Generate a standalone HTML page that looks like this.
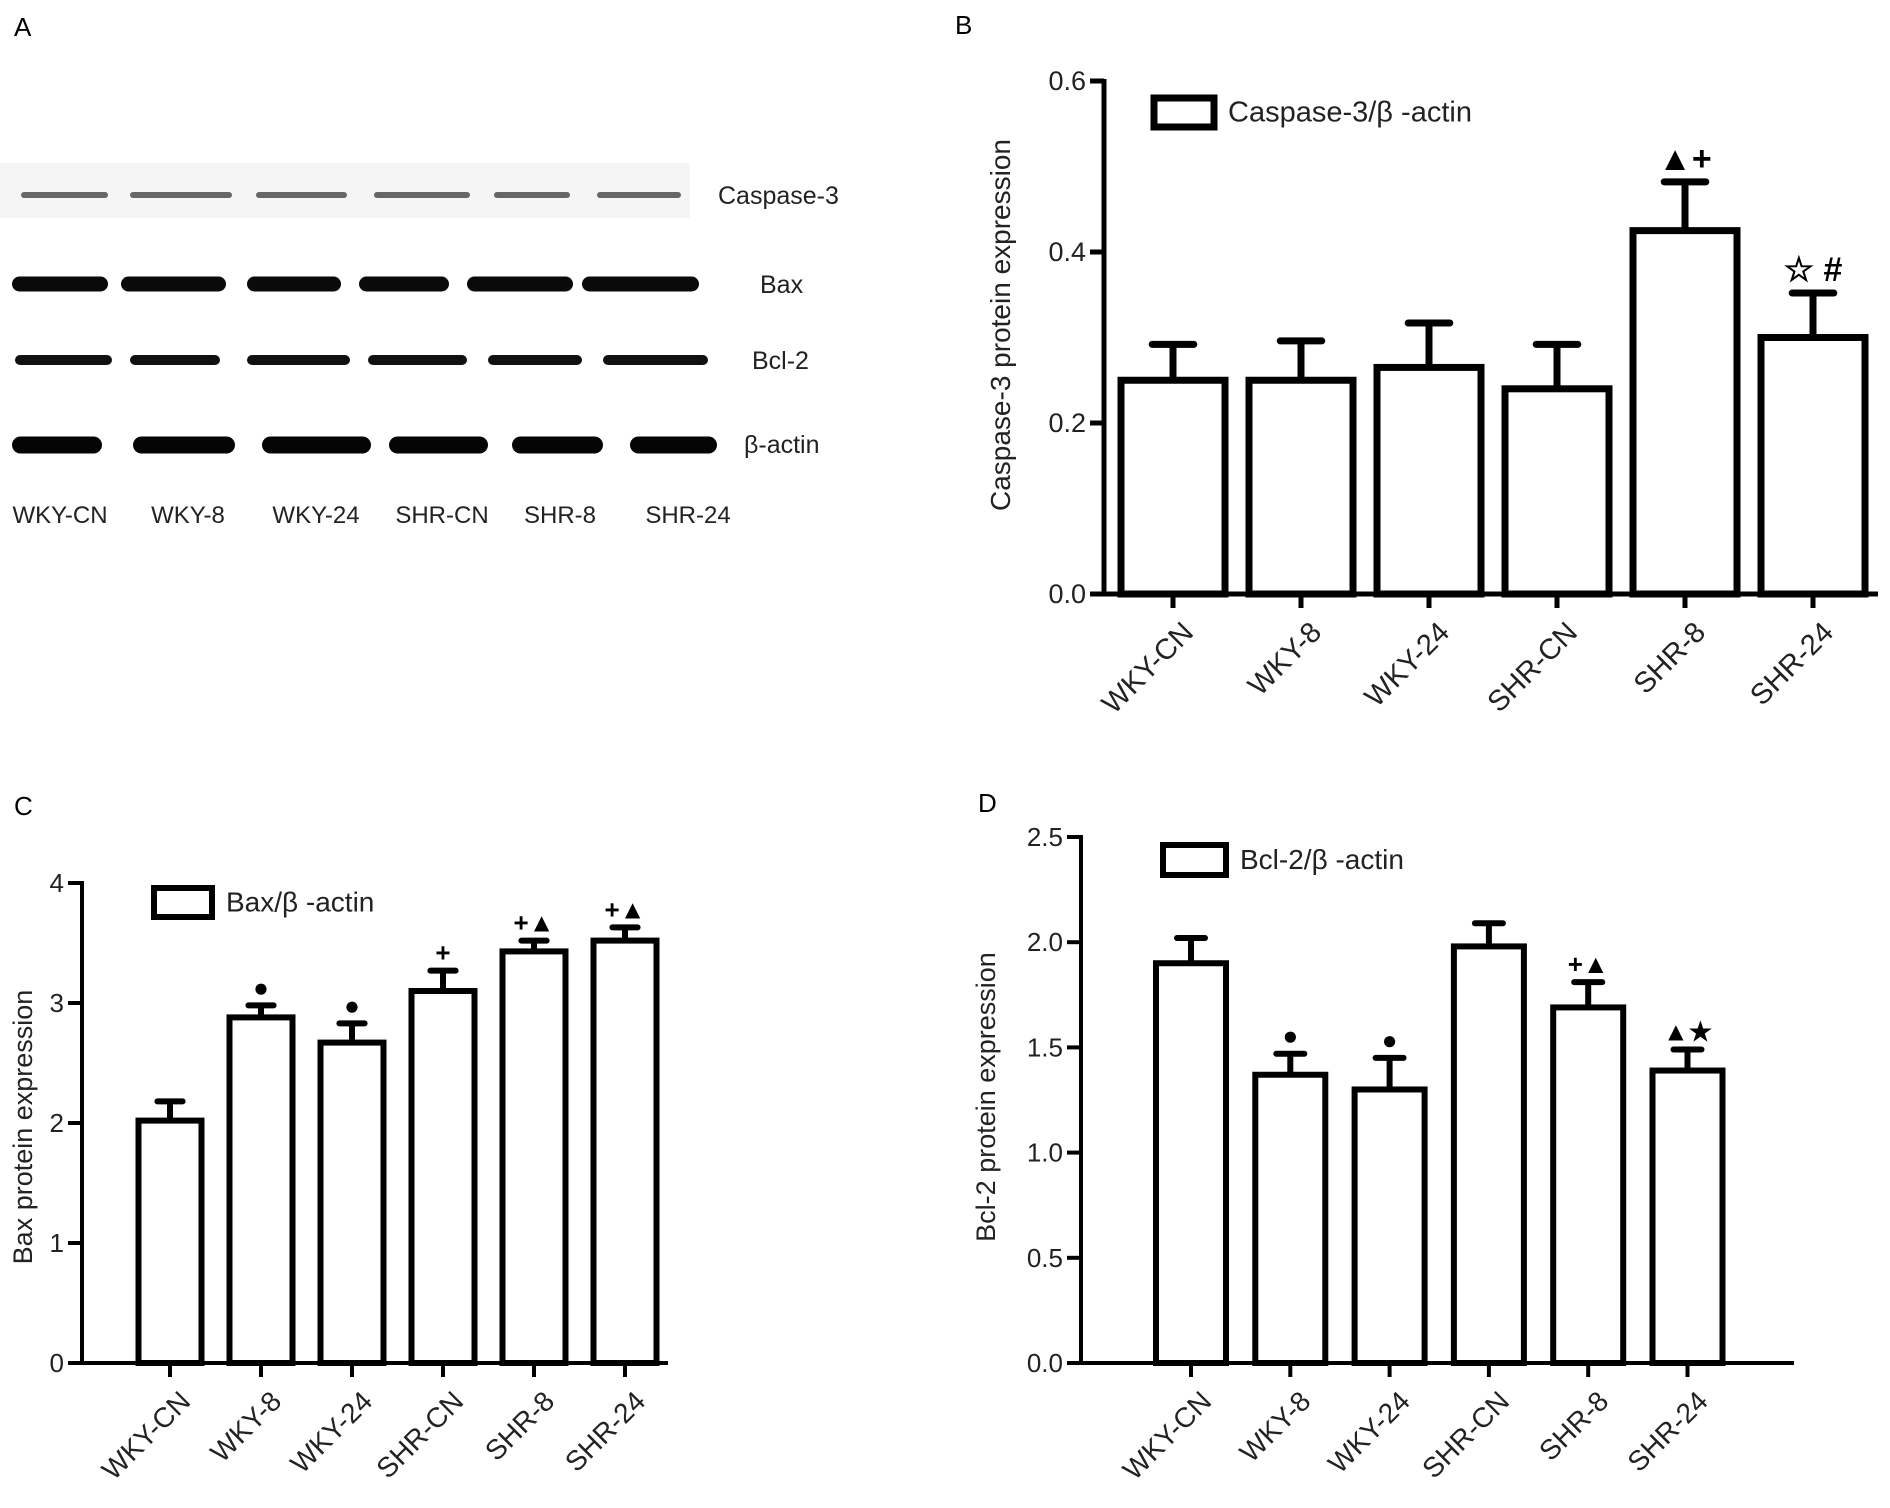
<!DOCTYPE html>
<html><head><meta charset="utf-8"><style>
html,body{margin:0;padding:0;background:#fff;}
svg{display:block;font-family:"Liberation Sans",Arial,sans-serif;}
</style></head><body>
<svg id="fig" width="1890" height="1508" viewBox="0 0 1890 1508">
<rect width="1890" height="1508" fill="#fff"/>
<g>
<text x="14" y="36" font-size="26">A</text>
<rect x="0" y="163" width="690" height="55" fill="#f5f5f5"/>
<g id="blot"></g>
<g font-size="25" fill="#222">
<text x="718" y="204">Caspase-3</text>
<text x="760" y="293">Bax</text>
<text x="752" y="369">Bcl-2</text>
<text x="744" y="453">β-actin</text>
</g>
<g font-size="24" fill="#222" text-anchor="middle">
<text x="60" y="523">WKY-CN</text>
<text x="188" y="523">WKY-8</text>
<text x="316" y="523">WKY-24</text>
<text x="442" y="523">SHR-CN</text>
<text x="560" y="523">SHR-8</text>
<text x="688" y="523">SHR-24</text>
</g>
</g>
<text x="955" y="34" font-size="26">B</text>
<text x="14" y="815" font-size="26">C</text>
<text x="978" y="812" font-size="26">D</text>
<g id="charts"></g>
</svg>
<script>
const categories = ["WKY-CN","WKY-8","WKY-24","SHR-CN","SHR-8","SHR-24"];
const casValues = [0.25,0.25,0.265,0.24,0.425,0.30];
const casErrors = [0.042,0.046,0.052,0.052,0.057,0.052];
const casTicks = ["0.0","0.2","0.4","0.6"];
const casMarks = ["","","","","▲+","☆ #"];
const baxValues = [2.02,2.88,2.67,3.10,3.43,3.52];
const baxErrors = [0.16,0.10,0.16,0.17,0.09,0.11];
const baxTicks = ["0","1","2","3","4"];
const baxMarks = ["","●","●","+","+▲","+▲"];
const bclValues = [1.90,1.37,1.30,1.98,1.69,1.39];
const bclErrors = [0.12,0.10,0.15,0.11,0.12,0.10];
const bclTicks = ["0.0","0.5","1.0","1.5","2.0","2.5"];
const bclMarks = ["","●","●","","+▲","▲★"];

const NS="http://www.w3.org/2000/svg";
function mk(tag,attrs,parent){const e=document.createElementNS(NS,tag);for(const k in attrs)e.setAttribute(k,attrs[k]);parent.appendChild(e);return e;}

const blot=document.getElementById('blot');
const bandRows=[
 {y:195,h:6,fill:'#666',lanes:[[21,108],[130,232],[256,347],[374,470],[494,570],[597,681]]},
 {y:284,h:15,fill:'#0a0a0a',lanes:[[12,108],[121,226],[247,341],[359,449],[467,573],[582,699]]},
 {y:360,h:10,fill:'#111',lanes:[[15,112],[130,220],[247,350],[368,467],[488,582],[603,708]]},
 {y:445,h:17,fill:'#050505',lanes:[[12,102],[133,235],[262,371],[389,488],[512,603],[630,717]]}];
bandRows.forEach((r,ri)=>r.lanes.forEach((l,li)=>{
 const e=mk('rect',{x:l[0],y:r.y-r.h/2,width:l[1]-l[0],height:r.h,rx:r.h/2,fill:r.fill},blot);
 
 
}));

function panel(o){
 const g=mk('g',{},document.getElementById('charts'));
 
 
 const yS=v=>o.y0-(v/o.max)*(o.y0-o.yTop);
 const xS=i=>o.x1+i*o.step;
 o.values.forEach((v,i)=>{
  const cx=xS(i), top=yS(v), et=yS(v+o.errors[i]);
  const ln=mk('line',{x1:cx,y1:top,x2:cx,y2:et,stroke:'#000','stroke-width':o.sw},g);
  
  
  const cap=mk('line',{x1:cx-o.bw*0.2,y1:et,x2:cx+o.bw*0.2,y2:et,stroke:'#000','stroke-width':o.sw,'stroke-linecap':'round'},g);
  
  
  const r=mk('rect',{x:cx-o.bw/2,y:top,width:o.bw,height:o.y0-top,fill:'#fff',stroke:'#000','stroke-width':o.sw},g);
  
  
  if(o.marks[i]){
   const t=mk('text',{x:cx,y:et-o.markGap,'text-anchor':'middle','font-size':o.markSize,'font-weight':'bold'},g);
   t.textContent=o.marks[i];
   
   
  }
  const tk=mk('line',{x1:cx,y1:o.y0,x2:cx,y2:o.y0+14,stroke:'#000','stroke-width':o.asw},g);
  
  
  const lx=cx+22, ly=o.y0+40;
  const lb=mk('text',{x:lx,y:ly,'text-anchor':'end','font-size':o.fs+2,fill:'#222',transform:`rotate(-45 ${lx} ${ly})`},g);
  lb.textContent=categories[i];
  
  
 });
 const ya=mk('line',{x1:o.ax,y1:o.yTop-2,x2:o.ax,y2:o.y0+2,stroke:'#000','stroke-width':o.asw},g);
 
 
 const xa=mk('line',{x1:o.ax-14,y1:o.y0,x2:o.xEnd,y2:o.y0,stroke:'#000','stroke-width':o.asw},g);
 
 
 o.ticks.forEach((t,k)=>{
  const y=yS(parseFloat(t));
  const l=mk('line',{x1:o.ax-14,y1:y,x2:o.ax,y2:y,stroke:'#000','stroke-width':o.asw},g);
  
  
  const tx=mk('text',{x:o.ax-18,y:y+9,'text-anchor':'end','font-size':o.fs,fill:'#222'},g);
  tx.textContent=t;
  
  
 });
 const yt=mk('text',{x:o.titleX,y:o.titleY,'text-anchor':'middle','font-size':o.fs+1,fill:'#222',transform:`rotate(-90 ${o.titleX} ${o.titleY})`},g);
 yt.textContent=o.title;
 
 
 const lg=mk('rect',{x:o.lgX,y:o.lgY,width:o.lgW,height:o.lgH,fill:'#fff',stroke:'#000','stroke-width':o.sw},g);
 
 
 const lt=mk('text',{x:o.lgX+o.lgW+14,y:o.lgY+o.lgH/2+9,'font-size':o.fs+2,fill:'#222'},g);
 lt.textContent=o.legend;
 
 
}

panel({name:'chart-caspase-3',values:casValues,errors:casErrors,ticks:casTicks,marks:casMarks,max:0.6,
 ax:1104,y0:594,yTop:81,x1:1173,step:128,bw:104,xEnd:1878,sw:7,asw:5,fs:27,markSize:34,markGap:12,
 title:'Caspase-3 protein expression',titleX:1010,titleY:325,legend:'Caspase-3/β -actin',lgX:1154,lgY:98,lgW:60,lgH:29});
panel({name:'chart-bax',values:baxValues,errors:baxErrors,ticks:baxTicks,marks:baxMarks,max:4,
 ax:82,y0:1363,yTop:883,x1:170,step:91,bw:63,xEnd:668,sw:6,asw:4,fs:26,markSize:26,markGap:9,
 title:'Bax protein expression',titleX:32,titleY:1127,legend:'Bax/β -actin',lgX:154,lgY:888,lgW:58,lgH:29});
panel({name:'chart-bcl-2',values:bclValues,errors:bclErrors,ticks:bclTicks,marks:bclMarks,max:2.5,
 ax:1081,y0:1363,yTop:837,x1:1191,step:99.3,bw:70,xEnd:1794,sw:6,asw:4,fs:26,markSize:26,markGap:9,
 title:'Bcl-2 protein expression',titleX:995,titleY:1097,legend:'Bcl-2/β -actin',lgX:1163,lgY:845,lgW:63,lgH:30});
</script>
</body></html>
